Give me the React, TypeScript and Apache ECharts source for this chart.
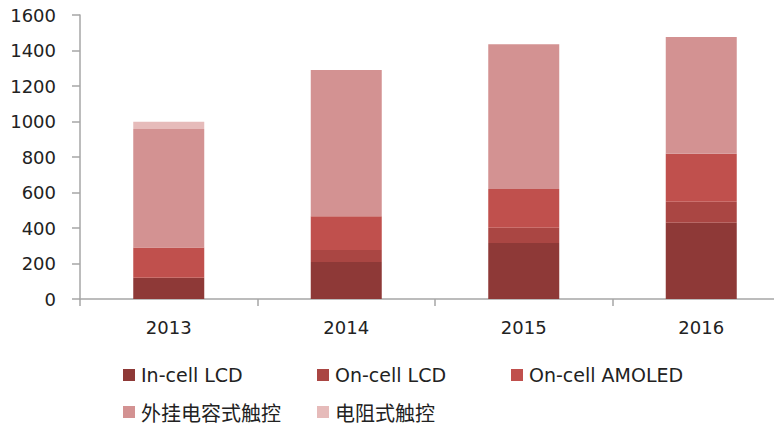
import React, { useEffect, useRef } from "react";
import * as echarts from "echarts";

const categories = ["2013", "2014", "2015", "2016"];
const seriesNames = ["In-cell LCD", "On-cell LCD", "On-cell AMOLED", "外挂电容式触控", "电阻式触控"];
const inCellLCD = [120, 208, 315, 430];
const onCellLCD = [0, 68, 86, 118];
const onCellAMOLED = [170, 190, 219, 271];
const externalCapacitive = [668, 824, 815, 657];
const resistive = [40, 0, 0, 0];
const yTicks = [0, 200, 400, 600, 800, 1000, 1200, 1400, 1600];

const seriesValues = [inCellLCD, onCellLCD, onCellAMOLED, externalCapacitive, resistive];
const colors = ["#8E3937", "#AA4643", "#C0504D", "#D39292", "#E6BBBA"];
const legendPos = [
  { left: 123, top: 365, size: 19 },
  { left: 317, top: 365, size: 19 },
  { left: 511, top: 365, size: 19 },
  { left: 123, top: 402, size: 20 },
  { left: 317, top: 402, size: 20 },
];

export default function App() {
  const ref = useRef<HTMLDivElement>(null);
  useEffect(() => {
    if (!ref.current) return;
    const chart = echarts.init(ref.current, null, { renderer: "svg" });
    const font = "DejaVu Sans, Noto Sans CJK SC, sans-serif";
    chart.setOption({
      animation: false,
      color: colors,
      grid: { left: 80, top: 15, width: 710, height: 284, outerBoundsMode: "none", containLabel: false },
      legend: seriesNames.map((n, i) => ({
        data: [n],
        left: legendPos[i].left,
        top: legendPos[i].top,
        icon: "rect",
        itemWidth: 12,
        itemHeight: 12,
        itemGap: 0,
        padding: 0,
        textStyle: {
          fontSize: legendPos[i].size,
          lineHeight: 20,
          color: "#222",
          fontFamily: i >= 3 ? "Noto Sans CJK SC, sans-serif" : font,
          padding: [0, 0, 0, 1],
        },
        selectedMode: false,
      })),
      xAxis: {
        type: "category",
        data: categories,
        axisLine: { lineStyle: { color: "#A6A6A6", width: 1.5 } },
        axisTick: { show: true, length: 7, lineStyle: { color: "#A6A6A6", width: 1.5 } },
        axisLabel: { fontSize: 18, color: "#222", margin: 19, fontFamily: font },
      },
      yAxis: {
        type: "value",
        min: 0,
        max: yTicks[yTicks.length - 1],
        interval: 200,
        splitLine: { show: false },
        axisLine: { show: true, lineStyle: { color: "#A6A6A6", width: 1.5 } },
        axisTick: { show: true, length: 8, lineStyle: { color: "#A6A6A6", width: 1.5 } },
        axisLabel: { fontSize: 18, color: "#222", margin: 24, fontFamily: font, formatter: (v: number) => String(v) },
      },
      series: seriesNames.map((n, i) => ({
        name: n,
        type: "bar",
        stack: "total",
        barWidth: "40%",
        data: seriesValues[i],
        itemStyle: { color: colors[i] },
      })),
    });
    return () => chart.dispose();
  }, []);
  return <div ref={ref} style={{ width: 782, height: 427, marginLeft: -8, marginTop: -8 }} />;
}
